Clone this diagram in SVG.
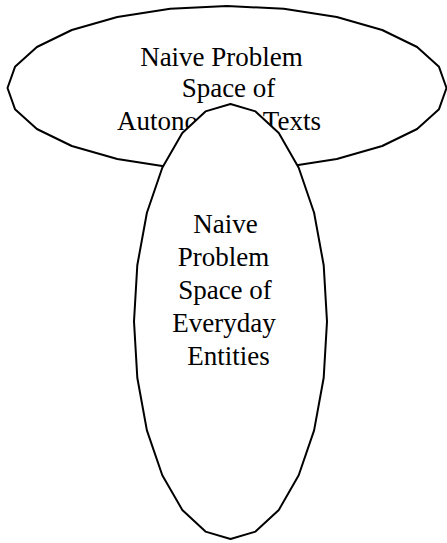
<svg xmlns="http://www.w3.org/2000/svg" width="447" height="543" viewBox="0 0 447 543">
<style>
.shape{fill:#fff;stroke:#000;stroke-width:2;stroke-linejoin:round}
.lbl{font-family:"Liberation Serif","Times New Roman",serif;font-size:27px;fill:#000;text-anchor:middle}
</style>
<rect width="447" height="543" fill="#fff"/>
<g id="node-texts">
<polygon class="shape" points="446.5,88 439,109.2 417.1,129 382.2,146 336.8,159 283.8,167.2 227,170 170.2,167.2 117.3,159 71.8,146 36.9,129 15,109.2 7.5,88 15,66.8 36.9,47 71.8,30 117.3,17 170.2,8.8 227,6 283.8,8.8 336.8,17 382.2,30 417.1,47 439,66.8"/>
<text class="lbl" x="221.5" y="66">Naive Problem</text>
<text class="lbl" x="228.5" y="97">Space of</text>
<text class="lbl" x="219" y="130">Autonomous Texts</text>
</g>
<g id="node-entities">
<polygon class="shape" points="327,321.5 323.7,377.8 314.1,430.4 298.7,475.3 278.8,509.9 255.5,531.6 230.5,539 205.5,531.6 182.3,509.9 162.3,475.3 146.9,430.4 137.3,377.8 134,321.5 137.3,265.2 146.9,212.8 162.3,167.7 182.3,133.1 205.5,111.4 230.5,104 255.5,111.4 278.8,133.1 298.7,167.7 314.1,212.8 323.7,265.2"/>
<text class="lbl" x="225.5" y="233">Naive</text>
<text class="lbl" x="223.5" y="266">Problem</text>
<text class="lbl" x="225" y="299">Space of</text>
<text class="lbl" x="224" y="332">Everyday</text>
<text class="lbl" x="228.5" y="365">Entities</text>
</g>
<g id="connectors"></g>
</svg>
